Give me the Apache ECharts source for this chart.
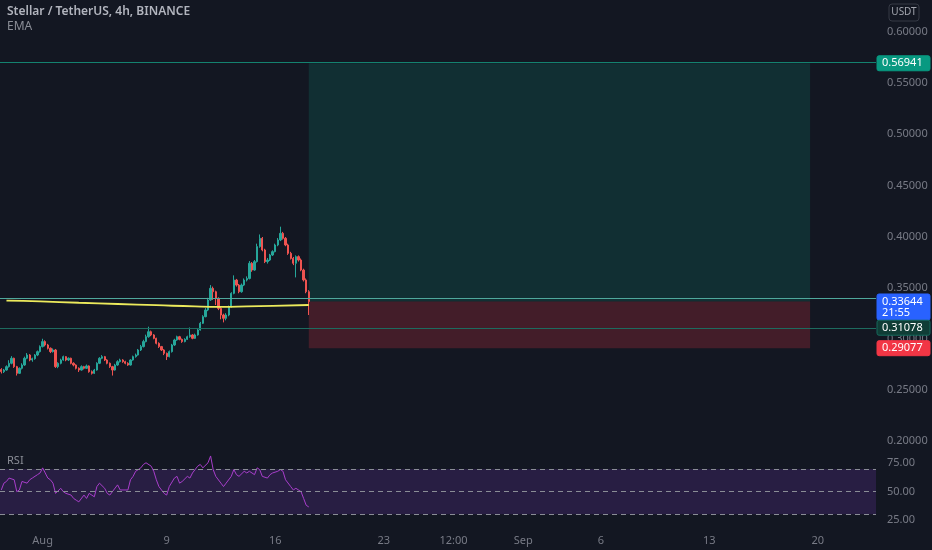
<!DOCTYPE html>
<html>
<head>
<meta charset="utf-8">
<script src="https://cdn.jsdelivr.net/npm/echarts@6/dist/echarts.min.js"></script>
<style>
html,body{margin:0;padding:0;background:#131722;}
#c{width:932px;height:550px;}
</style>
</head>
<body>
<div id="c"></div>
<script>
// ---- data ----
const startTime = '2021-07-29 08:00';
const barCount = 339;
const tickDates = ['2021-08-01 00:00','2021-08-09 00:00','2021-08-16 00:00','2021-08-23 00:00','2021-08-27 12:00','2021-09-01 00:00','2021-09-06 00:00','2021-09-13 00:00','2021-09-20 00:00'];
const tickTexts = ['Aug','9','16','23','12:00','Sep','6','13','20'];
// [open, close, low, high]
const candles = [
[0.2700,0.2678,0.2660,0.2712],[0.2678,0.2694,0.2665,0.2705],[0.2694,0.2727,0.2688,0.2740],[0.2727,0.2760,0.2718,0.2790],
[0.2760,0.2809,0.2750,0.2830],[0.2809,0.2727,0.2715,0.2815],[0.2727,0.2662,0.2640,0.2735],[0.2662,0.2711,0.2655,0.2720],
[0.2711,0.2743,0.2700,0.2760],[0.2743,0.2809,0.2735,0.2825],[0.2809,0.2841,0.2800,0.2860],[0.2841,0.2792,0.2780,0.2850],
[0.2792,0.2805,0.2775,0.2815],[0.2805,0.2841,0.2795,0.2850],[0.2841,0.2874,0.2830,0.2885],[0.2874,0.2923,0.2865,0.2935],
[0.2923,0.2972,0.2915,0.3000],[0.2972,0.2939,0.2925,0.2985],[0.2939,0.2907,0.2895,0.2950],[0.2907,0.2874,0.2860,0.2915],
[0.2874,0.2890,0.2865,0.2905],[0.2890,0.2727,0.2715,0.2900],[0.2727,0.2760,0.2712,0.2770],[0.2760,0.2792,0.2750,0.2805],
[0.2792,0.2825,0.2785,0.2835],[0.2825,0.2792,0.2780,0.2830],[0.2792,0.2809,0.2782,0.2818],[0.2809,0.2760,0.2750,0.2815],
[0.2760,0.2743,0.2730,0.2770],[0.2743,0.2711,0.2700,0.2750],[0.2711,0.2694,0.2675,0.2720],[0.2694,0.2727,0.2688,0.2740],
[0.2727,0.2711,0.2700,0.2735],[0.2711,0.2734,0.2705,0.2748],[0.2734,0.2678,0.2668,0.2740],[0.2678,0.2662,0.2650,0.2690],
[0.2662,0.2694,0.2655,0.2705],[0.2694,0.2760,0.2688,0.2770],[0.2760,0.2809,0.2752,0.2820],[0.2809,0.2825,0.2800,0.2840],
[0.2825,0.2792,0.2782,0.2832],[0.2792,0.2760,0.2750,0.2800],[0.2760,0.2727,0.2715,0.2768],[0.2727,0.2694,0.2640,0.2735],
[0.2694,0.2743,0.2688,0.2755],[0.2743,0.2776,0.2735,0.2790],[0.2776,0.2792,0.2768,0.2805],[0.2792,0.2776,0.2765,0.2800],
[0.2776,0.2760,0.2750,0.2785],[0.2760,0.2743,0.2735,0.2770],[0.2743,0.2792,0.2738,0.2800],[0.2792,0.2825,0.2785,0.2835],
[0.2825,0.2841,0.2815,0.2855],[0.2841,0.2890,0.2835,0.2900],[0.2890,0.2923,0.2880,0.2940],[0.2923,0.2972,0.2915,0.2990],
[0.2972,0.3020,0.2965,0.3040],[0.3020,0.3069,0.3010,0.3118],[0.3069,0.3037,0.3025,0.3080],[0.3037,0.3004,0.2995,0.3045],
[0.3004,0.2955,0.2945,0.3010],[0.2955,0.2923,0.2910,0.2965],[0.2923,0.2890,0.2880,0.2930],[0.2890,0.2857,0.2840,0.2898],
[0.2857,0.2825,0.2792,0.2865],[0.2825,0.2874,0.2818,0.2885],[0.2874,0.2939,0.2865,0.2950],[0.2939,0.2988,0.2930,0.3000],
[0.2988,0.3020,0.2980,0.3030],[0.3020,0.2994,0.2985,0.3028],[0.2994,0.2972,0.2960,0.3002],[0.2972,0.2994,0.2965,0.3005],
[0.2994,0.3020,0.2988,0.3030],[0.3020,0.3037,0.3010,0.3110],[0.3037,0.3004,0.2995,0.3045],[0.3004,0.3037,0.2998,0.3050],
[0.3037,0.3086,0.3030,0.3095],[0.3086,0.3151,0.3080,0.3165],[0.3151,0.3216,0.3145,0.3230],[0.3216,0.3281,0.3210,0.3300],
[0.3281,0.3379,0.3270,0.3400],[0.3379,0.3493,0.3370,0.3525],[0.3493,0.3460,0.3380,0.3510],[0.3460,0.3395,0.3330,0.3470],
[0.3395,0.3297,0.3280,0.3405],[0.3297,0.3232,0.3190,0.3310],[0.3232,0.3200,0.3160,0.3245],[0.3200,0.3232,0.3180,0.3250],
[0.3232,0.3314,0.3220,0.3325],[0.3314,0.3444,0.3305,0.3455],[0.3444,0.3574,0.3435,0.3620],[0.3574,0.3525,0.3510,0.3585],
[0.3525,0.3460,0.3445,0.3535],[0.3460,0.3525,0.3450,0.3540],[0.3525,0.3574,0.3515,0.3590],[0.3574,0.3590,0.3560,0.3610],
[0.3590,0.3738,0.3580,0.3760],[0.3738,0.3672,0.3655,0.3750],[0.3672,0.3754,0.3665,0.3770],[0.3754,0.3901,0.3745,0.3930],
[0.3901,0.3982,0.3890,0.4020],[0.3982,0.3868,0.3855,0.3995],[0.3868,0.3754,0.3740,0.3880],[0.3754,0.3770,0.3735,0.3790],
[0.3770,0.3819,0.3760,0.3830],[0.3819,0.3852,0.3810,0.3865],[0.3852,0.3917,0.3845,0.3930],[0.3917,0.3966,0.3905,0.3985],
[0.3966,0.4031,0.3955,0.4096],[0.4031,0.3982,0.3970,0.4045],[0.3982,0.3917,0.3905,0.3995],[0.3917,0.3835,0.3820,0.3930],
[0.3835,0.3786,0.3775,0.3850],[0.3786,0.3738,0.3720,0.3800],[0.3738,0.3803,0.3600,0.3815],[0.3803,0.3770,0.3755,0.3815],
[0.3770,0.3672,0.3660,0.3785],[0.3672,0.3575,0.3560,0.3685],[0.3575,0.3460,0.3445,0.3590],[0.3460,0.3364,0.3232,0.3475]
];
// EMA read at a few bars: [barIndex, value]
const emaPoints = [[2,0.3372],[15,0.3365],[30,0.3352],[45,0.3340],[60,0.3328],[75,0.3316],[85,0.3312],[95,0.3316],[105,0.3322],[119,0.3330]];
// RSI: [barIndex, value]
const rsiPoints = [[0,51.5],[1,57.5],[2,59],[3,62],[5,60.5],[6,50],[7,51.5],[8,59],[10,57.5],[11,60.5],[12,62],[14,65],[15,66.5],[16,71],[17,66.5],[18,62],[19,60.5],[20,57.5],[21,48.5],[23,53],[24,50],[25,48.5],[27,47],[28,44],[29,42.5],[30,41],[32,47],[33,44],[34,48.5],[36,45.5],[37,54.5],[38,57.5],[40,53],[41,48.5],[42,47],[43,50],[45,56],[46,51.5],[49,51.5],[50,60.5],[51,63.5],[52,68],[54,71],[55,74],[56,75.5],[58,72.5],[59,68],[60,60.5],[61,54.5],[63,48.5],[64,47],[65,54.5],[67,62],[68,63.5],[69,57.5],[70,59],[72,63.5],[73,62],[74,66.5],[76,72.5],[77,74],[78,71],[80,75.5],[81,81.5],[82,69.5],[83,63.5],[85,57.5],[86,54.5],[87,57.5],[89,63.5],[90,69.5],[91,65],[92,63.5],[94,68],[95,66.5],[96,68],[98,65],[99,71],[100,69.5],[101,63.5],[103,62],[104,65],[105,66.5],[107,68],[108,69.5],[109,68],[110,60.5],[112,54.5],[113,51.5],[114,53],[116,50],[117,44],[118,38],[119,36.5]];
const targetPrice = 0.56941;
const entryPrice = 0.33644;
const levelPrice = 0.31078;
const stopPrice = 0.29077;
const positionStart = '2021-08-18 04:00';
const positionEnd = '2021-09-19 12:00';
const priceTicks = [0.20, 0.25, 0.30, 0.35, 0.40, 0.45, 0.50, 0.55, 0.60];
const rsiBands = [30, 50, 70];

// ---- build categories (4h bars) ----
function fmt(d){
  const p = n => String(n).padStart(2,'0');
  return d.getUTCFullYear()+'-'+p(d.getUTCMonth()+1)+'-'+p(d.getUTCDate())+' '+p(d.getUTCHours())+':'+p(d.getUTCMinutes());
}
const t0 = Date.parse(startTime.replace(' ','T')+':00Z');
const categories = [];
for (let i = 0; i < barCount; i++) categories.push(fmt(new Date(t0 + i*4*3600e3)));
const tickMap = {};
tickDates.forEach((d,i)=>{ tickMap[d] = tickTexts[i]; });

const FONT = '"Noto Sans", "DejaVu Sans", sans-serif';
const chart = echarts.init(document.getElementById('c'), null, {renderer:'canvas'});

const option = {
  backgroundColor: '#131722',
  animation: false,
  grid: [
    {left: 0, right: 56, top: 32, bottom: 109},
    {left: 0, right: 56, top: 452, bottom: 30}
  ],
  xAxis: [
    {type:'category', gridIndex:0, data: categories, boundaryGap: true,
     axisLine:{show:false}, axisTick:{show:false}, axisLabel:{show:false}, splitLine:{show:false}},
    {type:'category', gridIndex:1, data: categories, boundaryGap: true,
     axisLine:{show:false}, axisTick:{show:false}, splitLine:{show:false},
     axisLabel:{show:true, color:'#787b86', fontSize:11, fontFamily:FONT, margin:15,
       interval: (idx, val) => tickMap[val] !== undefined,
       formatter: (val) => tickMap[val] || ''}}
  ],
  yAxis: [
    {type:'value', gridIndex:0, position:'right', min: priceTicks[0], max: priceTicks[priceTicks.length-1], interval: 0.05,
     axisLine:{show:false}, axisTick:{show:false}, splitLine:{show:false},
     axisLabel:{color:'#787b86', fontSize:11, fontFamily:FONT, margin:11, formatter: v => v.toFixed(5)}},
    {type:'value', gridIndex:1, position:'right', min:25, max:85, interval:25,
     axisLine:{show:false}, axisTick:{show:false}, splitLine:{show:false},
     axisLabel:{color:'#787b86', fontSize:11, fontFamily:FONT, margin:11, showMaxLabel:false,
       formatter: v => (v % 25 === 0 ? v.toFixed(2) : '')}}
  ],
  series: [
    {
      type:'line', xAxisIndex:0, yAxisIndex:0, data: [], silent:true, z:1,
      markArea: {
        silent:true,
        data: [
          [{xAxis: positionStart, yAxis: targetPrice, itemStyle:{color:'rgba(8,153,129,0.19)'}}, {xAxis: positionEnd, yAxis: entryPrice}],
          [{xAxis: positionStart, yAxis: entryPrice, itemStyle:{color:'rgba(242,54,69,0.22)'}}, {xAxis: positionEnd, yAxis: stopPrice}]
        ]
      },
      markLine: {
        silent:true, symbol:['none','none'], label:{show:false},
        data: [
          {yAxis: targetPrice, lineStyle:{color:'#14826f', width:1, type:'solid'}},
          {yAxis: entryPrice, lineStyle:{color:'#4fa89c', width:1, type:'solid'}},
          {yAxis: levelPrice, lineStyle:{color:'#1d6b5f', width:1, type:'solid'}}
        ]
      }
    },
    {
      type:'candlestick', xAxisIndex:0, yAxisIndex:0, z:3,
      data: candles,
      barWidth: '70%',
      itemStyle:{color:'#26a69a', color0:'#ef5350', borderColor:'#26a69a', borderColor0:'#ef5350', borderWidth:1}
    },
    {
      type:'line', xAxisIndex:0, yAxisIndex:0, z:4, data: emaPoints, showSymbol:false, smooth:true,
      lineStyle:{color:'#ecea5c', width:1.8}
    },
    {
      type:'line', xAxisIndex:1, yAxisIndex:1, data: [], silent:true, z:1,
      markArea:{silent:true, data:[[{yAxis: rsiBands[0], itemStyle:{color:'rgba(126,60,200,0.2)'}},{yAxis: rsiBands[2]}]]},
      markLine:{silent:true, symbol:['none','none'], label:{show:false},
        lineStyle:{color:'#8a8d96', width:1, type:[5,4]},
        data: rsiBands.map(v => ({yAxis: v}))}
    },
    {
      type:'line', xAxisIndex:1, yAxisIndex:1, z:3, data: rsiPoints, showSymbol:false,
      lineStyle:{color:'#a83ecb', width:1}
    }
  ]
};
chart.setOption(option);

// right-side price labels and text overlays
function py(v){ return chart.convertToPixel({yAxisIndex:0}, v); }
function tag(v, bg, lines, border){
  const y = py(v);
  const h = lines.length > 1 ? 26 : 15;
  const top = y - 7.5;
  const els = [{type:'rect', shape:{x:877, y:top, width:53, height:h, r:2}, style:{fill:bg, stroke: border || bg, lineWidth:1}, z:100}];
  lines.forEach((t,i)=>{
    els.push({type:'text', x:882, y: top + 7.5 + i*11, style:{text:t, fill:'#ffffff', font:'11px '+FONT, textVerticalAlign:'middle'}, z:101});
  });
  return els;
}
const g = [];
g.push(...tag(targetPrice, '#089981', [targetPrice.toFixed(5)]));
g.push(...tag(entryPrice, '#2962ff', [entryPrice.toFixed(5), '21:55']));
g.push(...tag(levelPrice, '#103d36', [levelPrice.toFixed(5)], '#16695c'));
g.push(...tag(stopPrice, '#f23645', [stopPrice.toFixed(5)]));
g.push({type:'text', x:7, y:12, style:{text:'Stellar / TetherUS, 4h, BINANCE', fill:'#b2b5be', font:'600 12px '+FONT, textVerticalAlign:'middle'}, z:100});
g.push({type:'text', x:7, y:27, style:{text:'EMA', fill:'#8b8e97', font:'12px '+FONT, textVerticalAlign:'middle'}, z:100});
g.push({type:'text', x:7, y:461, style:{text:'RSI', fill:'#8b8e97', font:'11px '+FONT, textVerticalAlign:'middle'}, z:100});
g.push({type:'rect', shape:{x:889, y:4, width:30, height:17, r:3}, style:{fill:'none', stroke:'#363a45', lineWidth:1}, z:100});
g.push({type:'text', x:904, y:12.5, style:{text:'USDT', fill:'#a3a6af', font:'10px '+FONT, textAlign:'center', textVerticalAlign:'middle'}, z:101});
chart.setOption({graphic: g});
</script>
</body>
</html>
